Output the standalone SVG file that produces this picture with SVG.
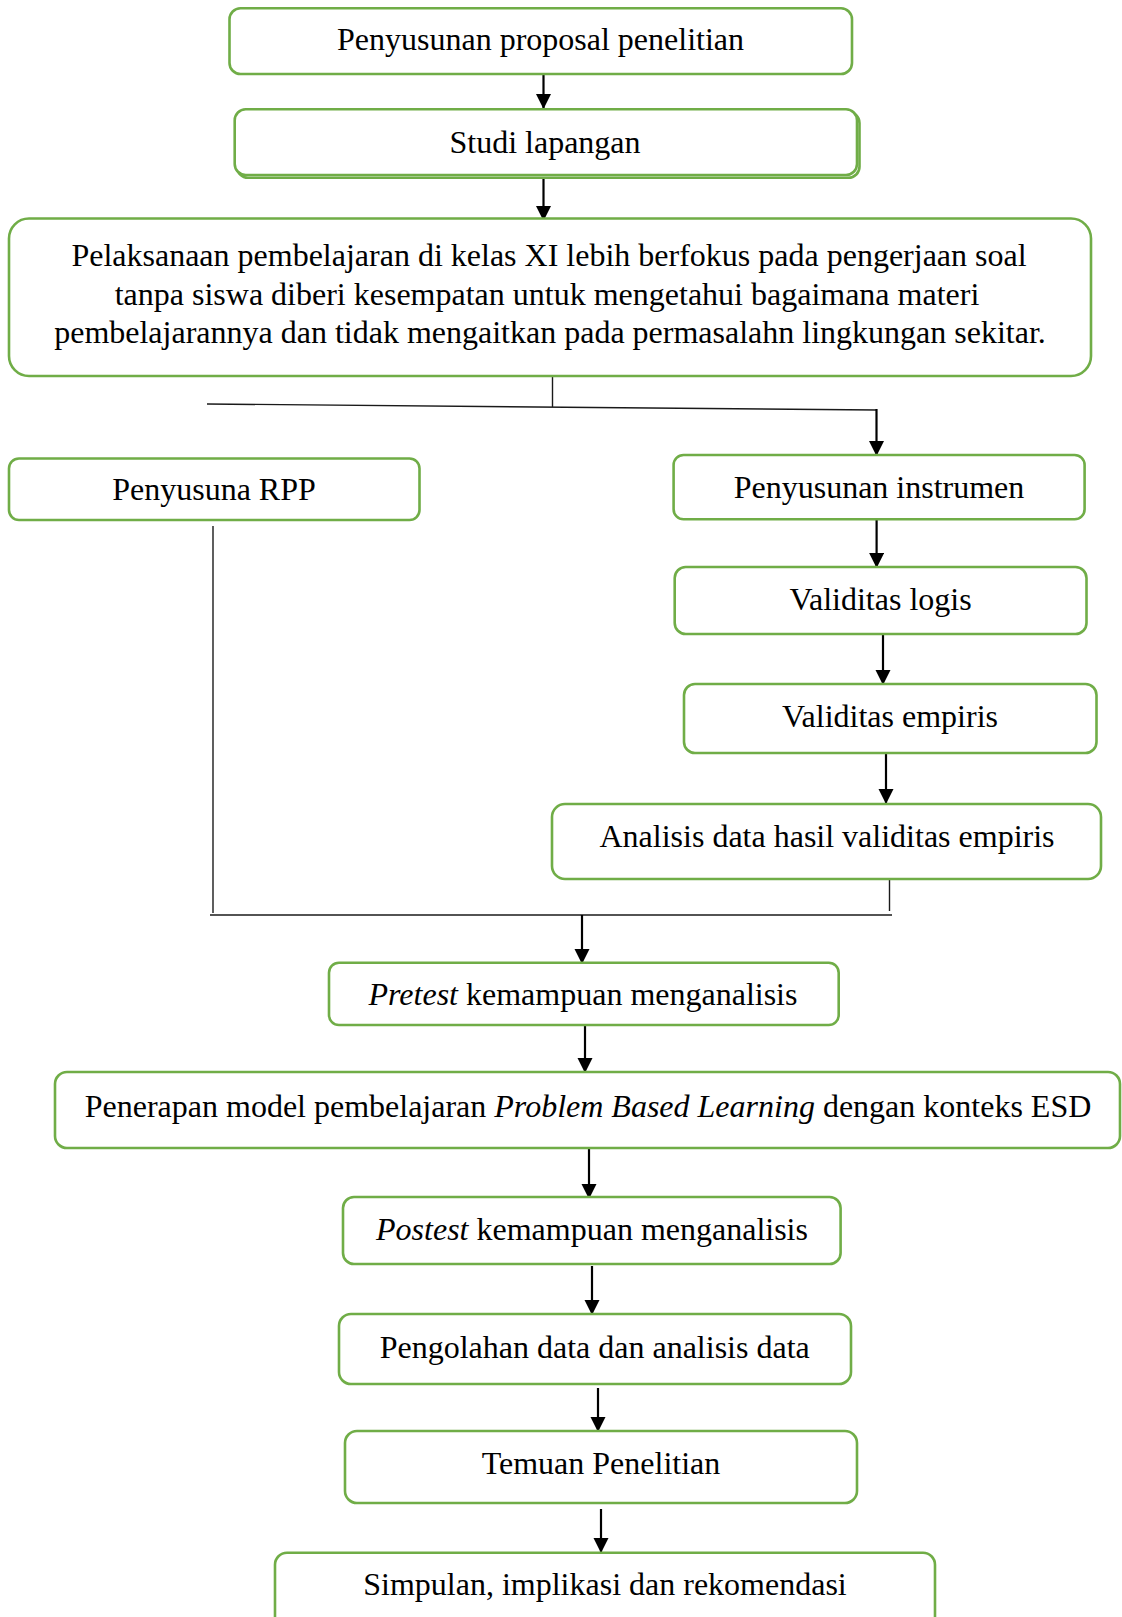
<svg xmlns="http://www.w3.org/2000/svg" width="1122" height="1617" viewBox="0 0 1122 1617">
<style>
.box{fill:#fff;stroke:#70AD47;stroke-width:2.6}
.t{font-family:"Liberation Serif","Times New Roman",serif;font-size:32px;fill:#000;text-anchor:middle}
.i{font-style:italic}
.ln{stroke:#1a1a1a;stroke-width:1.4;fill:none}
.ar{stroke:#000;stroke-width:2.2;fill:none;marker-end:url(#ah)}
</style>
<defs>
<marker id="ah" markerUnits="userSpaceOnUse" markerWidth="16" markerHeight="16" refX="15" refY="7.5" orient="auto">
<path d="M0,0 L15,7.5 L0,15 Z" fill="#000"/>
</marker>
</defs>
<rect x="0" y="0" width="1122" height="1617" fill="#fff"/>
<g id="connectors">
<line class="ar" x1="543.5" y1="74" x2="543.5" y2="109"/>
<line class="ar" x1="543.5" y1="178" x2="543.5" y2="221"/>
<line class="ln" x1="552.5" y1="376" x2="552.5" y2="407"/>
<line class="ln" x1="207" y1="404" x2="877" y2="410"/>
<line class="ar" x1="876.5" y1="409" x2="876.5" y2="456"/>
<line class="ar" x1="876.6" y1="519" x2="876.6" y2="568"/>
<line class="ar" x1="883" y1="634" x2="883" y2="685"/>
<line class="ar" x1="886" y1="753" x2="886" y2="804"/>
<line class="ln" x1="889.5" y1="880" x2="889.5" y2="911"/>
<line class="ln" x1="213" y1="526" x2="213" y2="913"/>
<line class="ln" x1="210" y1="915" x2="892" y2="915"/>
<line class="ar" x1="582" y1="915" x2="582" y2="964"/>
<line class="ar" x1="585" y1="1025" x2="585" y2="1073"/>
<line class="ar" x1="589" y1="1148" x2="589" y2="1199"/>
<line class="ar" x1="592" y1="1266" x2="592" y2="1315"/>
<line class="ar" x1="598" y1="1388" x2="598" y2="1432"/>
<line class="ar" x1="601" y1="1509" x2="601" y2="1553"/>
</g>
<g id="n1">
<rect class="box" x="229.5" y="8.3" width="622.5" height="65.7" rx="11"/>
<text class="t" x="540.5" y="50">Penyusunan proposal penelitian</text>
</g>
<g id="n2">
<rect class="box" x="237" y="112" width="622.5" height="65.7" rx="11"/>
<rect class="box" x="234.7" y="109.3" width="622.3" height="65.7" rx="11"/>
<text class="t" x="545" y="152.7">Studi lapangan</text>
</g>
<g id="n3">
<rect class="box" x="9" y="218.5" width="1082" height="157.5" rx="20"/>
<text class="t" x="549" y="266">Pelaksanaan pembelajaran di kelas XI lebih berfokus pada pengerjaan soal</text>
<text class="t" x="547" y="305">tanpa siswa diberi kesempatan untuk mengetahui bagaimana materi</text>
<text class="t" x="550" y="343">pembelajarannya dan tidak mengaitkan pada permasalahn lingkungan sekitar.</text>
</g>
<g id="n4">
<rect class="box" x="9" y="458.5" width="410.5" height="61.5" rx="10"/>
<text class="t" x="214" y="500">Penyusuna RPP</text>
</g>
<g id="n5">
<rect class="box" x="673.6" y="455" width="411" height="64.3" rx="10"/>
<text class="t" x="879" y="497.5">Penyusunan instrumen</text>
</g>
<g id="n6">
<rect class="box" x="674.7" y="567" width="411.8" height="67" rx="11"/>
<text class="t" x="880.5" y="610">Validitas logis</text>
</g>
<g id="n7">
<rect class="box" x="684" y="684" width="412.5" height="69" rx="11"/>
<text class="t" x="890" y="726.7">Validitas empiris</text>
</g>
<g id="n8">
<rect class="box" x="552" y="804" width="549" height="75" rx="13"/>
<text class="t" x="827" y="847">Analisis data hasil validitas empiris</text>
</g>
<g id="n9">
<rect class="box" x="329" y="962.7" width="509.7" height="62.3" rx="10"/>
<text class="t" x="583" y="1005"><tspan class="i">Pretest</tspan> kemampuan menganalisis</text>
</g>
<g id="n10">
<rect class="box" x="55" y="1072" width="1065" height="76" rx="12"/>
<text class="t" x="588" y="1116.7">Penerapan model pembelajaran <tspan class="i">Problem Based Learning</tspan> dengan konteks ESD</text>
</g>
<g id="n11">
<rect class="box" x="343" y="1197" width="497.6" height="67" rx="11"/>
<text class="t" x="592" y="1240"><tspan class="i">Postest</tspan> kemampuan menganalisis</text>
</g>
<g id="n12">
<rect class="box" x="339" y="1314" width="512" height="70" rx="12"/>
<text class="t" x="594.7" y="1357.7">Pengolahan data dan analisis data</text>
</g>
<g id="n13">
<rect class="box" x="345" y="1431" width="512" height="72" rx="12"/>
<text class="t" x="601" y="1474">Temuan Penelitian</text>
</g>
<g id="n14">
<rect class="box" x="275" y="1552.7" width="660" height="90" rx="12"/>
<text class="t" x="605" y="1595">Simpulan, implikasi dan rekomendasi</text>
</g>
</svg>
